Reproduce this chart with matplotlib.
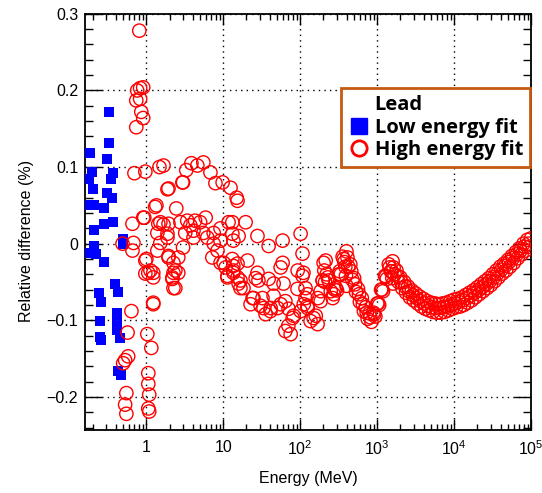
import numpy as np
import matplotlib
matplotlib.use("Agg")
import matplotlib.pyplot as plt
from matplotlib.lines import Line2D

# low energy fit (blue squares): energy in MeV, relative difference in %
low_e = [0.33, 0.33, 0.187, 0.31, 0.198, 0.37, 0.18, 0.35, 0.20, 0.31, 0.36,
         0.187, 0.21, 0.28, 0.28, 0.37, 0.21, 0.50, 0.49, 0.21, 0.18, 0.22,
         0.28, 0.39, 0.43, 0.24, 0.26, 0.41, 0.25, 0.42, 0.42, 0.25, 0.26,
         0.46, 0.43, 0.47]
low_val = [0.172, 0.132, 0.118, 0.111, 0.093, 0.092, 0.085, 0.084, 0.072, 0.066, 0.060,
           0.050, 0.050, 0.046, 0.026, 0.028, 0.018, 0.006, 0.000, -0.003, -0.012, -0.013,
           -0.024, -0.052, -0.063, -0.065, -0.076, -0.090, -0.101, -0.101, -0.112, -0.122, -0.126,
           -0.123, -0.166, -0.172]

# high energy fit (red circles), below 10 MeV
hi_e_a = [0.81, 0.83, 0.91, 0.76, 0.74, 0.83, 0.86, 0.91, 0.74,
          0.70, 0.97, 1.48, 1.67, 1.88, 1.35, 2.45, 3.0, 3.3, 3.85, 4.6, 5.5, 6.8, 7.9, 9.8,
          0.91, 0.66, 0.49, 0.68, 0.66, 0.97, 1.06, 1.23, 1.23, 0.64, 0.57, 1.03, 1.16, 0.58,
          0.53, 0.50, 1.06, 1.06, 0.55, 1.09, 0.53, 1.06, 0.55, 1.09,
          1.30, 1.52, 1.67, 1.94, 1.39, 1.88, 1.52, 1.39, 1.94, 2.25, 2.38, 2.18, 2.6, 2.38,
          2.77, 3.4, 3.73, 4.3, 5.0, 5.9, 3.2, 4.1, 5.5, 7.5, 9.2, 7.2, 8.4, 9.2,
          1.94, 2.94, 0.94, 1.43, 1.88, 3.0, 4.1, 6.2, 7.5, 9.2, 1.0, 1.94, 2.6, 1.13, 2.25,
          0.97, 1.23, 2.18, 2.25, 1.23]
hi_val_a = [0.278, 0.203, 0.204, 0.200, 0.187, 0.189, 0.172, 0.164, 0.152,
            0.092, 0.094, 0.100, 0.102, 0.071, 0.050, 0.046, 0.080, 0.096, 0.105, 0.102, 0.106, 0.093, 0.079, 0.080,
            0.034, 0.026, 0.000, 0.001, -0.009, -0.022, -0.038, -0.038, -0.077, -0.088, -0.116, -0.118, -0.136, -0.147,
            -0.152, -0.156, -0.169, -0.183, -0.195, -0.197, -0.210, -0.215, -0.222, -0.219,
            0.048, 0.028, 0.025, 0.026, 0.014, 0.013, 0.001, -0.009, -0.016, -0.025, -0.035, -0.044, -0.038, -0.058,
            0.028, 0.030, 0.024, 0.030, 0.028, 0.034, 0.014, 0.017, 0.014, 0.014, 0.020, -0.018, -0.009, -0.025,
            0.072, 0.080, 0.034, 0.026, 0.008, -0.005, 0.008, 0.008, 0.000, 0.004, -0.020, -0.018, -0.018, -0.035, -0.038,
            -0.039, -0.044, -0.046, -0.058, -0.079]

# high energy fit, 10 - 300 MeV cloud
hi_e_b = [11.7, 10.7, 13.5, 11.3, 13.5, 15.8, 10.1, 11.3, 15.3, 16.7, 12.4, 14.9, 13.5,
          15.3, 13.1, 19.5, 13.1, 15.8, 27.8, 38.8, 58.9, 101, 107, 201, 13.1, 15.3, 20.6,
          13.5, 18.3, 27.8, 28.6, 38.8, 55.6, 60.6, 110, 92, 195, 228, 24.7, 32.3, 45, 64,
          124, 22.6, 33.3, 50.7, 70.4, 124, 184, 35.4, 82, 149, 168, 70, 75, 64, 136, 41,
          16.7, 26.3, 45.1, 59.0, 107, 92.5, 24.0, 30.5, 41.2, 55.6, 79.6, 101, 117, 159,
          169, 184, 196, 214, 234, 249, 264, 272, 111, 117, 125,
          205, 210, 220, 385, 392, 398, 1540, 1570, 1600]
hi_val_b = [0.028, -0.031, -0.029, -0.042, -0.035, -0.052, -0.025, -0.044, -0.044, -0.058, 0.073, 0.060, 0.004,
            0.056, 0.028, 0.028, 0.013, 0.010, 0.010, -0.003, 0.004, 0.013, -0.013, -0.025, -0.020, -0.026, -0.022,
            -0.038, -0.058, -0.038, -0.048, -0.046, -0.031, -0.052, -0.038, -0.059, -0.048, -0.044, -0.071, -0.071, -0.068, -0.075,
            -0.066, -0.079, -0.084, -0.084, -0.085, -0.081, -0.075, -0.092, -0.094, -0.097, -0.105, -0.107, -0.118, -0.114, -0.101, -0.088,
            -0.048, -0.045, -0.052, -0.025, -0.042, -0.035, -0.071, -0.081, -0.084, -0.079, -0.097, -0.088, -0.071, -0.094,
            -0.071, -0.062, -0.048, -0.022, -0.048, -0.062, -0.071, -0.066, -0.079, -0.058, -0.084,
            -0.035, -0.050, -0.040, -0.030, -0.042, -0.055, -0.036, -0.045, -0.052]

# high energy fit, smooth band above 280 MeV (upper strand)
hi_e_c = [280, 316, 355, 398, 447, 501, 562, 631, 708, 794, 891, 1000, 1122, 1259, 1413,
          1585, 1778, 1995, 2239, 2512, 2818, 3162, 3548, 3981, 4467, 5012, 5623, 6310,
          7079, 7943, 8913, 1.0e4, 1.122e4, 1.259e4, 1.413e4, 1.585e4, 1.778e4, 1.995e4,
          2.239e4, 2.512e4, 2.818e4, 3.162e4, 3.548e4, 3.981e4, 4.467e4, 5.012e4, 5.623e4,
          6.310e4, 7.079e4, 7.943e4, 8.913e4, 1.0e5]
hi_val_c = [-0.060, -0.040, -0.017, -0.010, -0.027, -0.045, -0.059, -0.071, -0.083, -0.091, -0.090,
            -0.078, -0.060, -0.042, -0.027, -0.023, -0.035, -0.044, -0.050, -0.056, -0.061, -0.065,
            -0.069, -0.072, -0.075, -0.077, -0.078, -0.079, -0.078, -0.077, -0.075, -0.073, -0.072,
            -0.070, -0.067, -0.064, -0.061, -0.057, -0.053, -0.049, -0.045, -0.040, -0.035, -0.030,
            -0.026, -0.021, -0.016, -0.011, -0.006, 0.000, 0.005, 0.007]

# smooth band, middle strand
hi_e_m = [290, 325, 365, 410, 460, 515, 580, 650, 730, 815, 915, 1030, 1150, 1290, 1450,
          1630, 1830, 2050, 2300, 2580, 2900, 3250, 3650, 4090, 4590, 5150, 5780, 6490,
          7280, 8170, 9170, 1.03e4, 1.15e4, 1.29e4, 1.45e4, 1.63e4, 1.83e4, 2.05e4, 2.30e4,
          2.58e4, 2.90e4, 3.25e4, 3.65e4, 4.09e4, 4.59e4, 5.15e4, 5.78e4, 6.49e4, 7.28e4,
          8.17e4, 9.17e4]
hi_val_m = [-0.058, -0.036, -0.020, -0.018, -0.036, -0.053, -0.066, -0.079, -0.090, -0.096, -0.092,
            -0.078, -0.060, -0.043, -0.031, -0.031, -0.042, -0.050, -0.056, -0.062, -0.067, -0.071,
            -0.075, -0.078, -0.081, -0.083, -0.084, -0.084, -0.083, -0.082, -0.080, -0.078, -0.076,
            -0.074, -0.071, -0.068, -0.064, -0.061, -0.057, -0.053, -0.049, -0.044, -0.039, -0.034,
            -0.029, -0.024, -0.019, -0.014, -0.009, -0.004, 0.000]

# smooth band (lower strand)
hi_e_d = [300, 335, 375, 420, 475, 530, 595, 670, 750, 840, 945, 1060, 1190, 1330, 1500,
          1680, 1890, 2110, 2370, 2660, 2990, 3350, 3760, 4220, 4730, 5310, 5960, 6680,
          7500, 8410, 9440, 1.06e4, 1.19e4, 1.33e4, 1.50e4, 1.68e4, 1.88e4, 2.11e4, 2.37e4,
          2.66e4, 2.99e4, 3.35e4, 3.76e4, 4.22e4, 4.73e4, 5.31e4, 5.96e4, 6.68e4, 7.50e4,
          8.41e4, 9.44e4]
hi_val_d = [-0.061, -0.040, -0.024, -0.030, -0.047, -0.063, -0.076, -0.088, -0.098, -0.102, -0.095,
            -0.080, -0.062, -0.046, -0.036, -0.040, -0.050, -0.058, -0.064, -0.070, -0.074, -0.078,
            -0.082, -0.085, -0.087, -0.089, -0.090, -0.090, -0.089, -0.087, -0.085, -0.083, -0.082,
            -0.080, -0.077, -0.074, -0.070, -0.066, -0.062, -0.058, -0.054, -0.049, -0.044, -0.039,
            -0.035, -0.030, -0.025, -0.019, -0.014, -0.009, -0.004]

x_ticks = [1, 10, 1e2, 1e3, 1e4, 1e5]
x_ticklabels = ["1", "10", "$10^2$", "$10^3$", "$10^4$", "$10^5$"]
y_ticks = [-0.2, -0.1, 0, 0.1, 0.2, 0.3]
y_ticklabels = ["\u22120.2", "\u22120.1", "0", "0.1", "0.2", "0.3"]

hi_e = hi_e_a + hi_e_b + hi_e_c + hi_e_m + hi_e_d
hi_val = hi_val_a + hi_val_b + hi_val_c + hi_val_m + hi_val_d

plt.rcParams["font.family"] = ["Liberation Sans", "DejaVu Sans"]
plt.rcParams["mathtext.fontset"] = "custom"
plt.rcParams["mathtext.rm"] = "Liberation Sans"

fig = plt.figure(figsize=(5.42, 4.93), dpi=100)
ax = fig.add_axes([0.157, 0.128, 0.823, 0.844])

ax.scatter(low_e, low_val, marker="s", s=55, color="#0000ff", linewidths=0, zorder=3)
ax.scatter(hi_e, hi_val, marker="o", s=92, facecolors="none", edgecolors="#ff0000",
           linewidths=1.0, zorder=4)

ax.set_xscale("log")
ax.set_xlim(0.16, 1.0e5)
ax.set_ylim(-0.243, 0.3)
ax.set_xticks(x_ticks)
ax.set_xticklabels(x_ticklabels)
ax.set_yticks(y_ticks)
ax.set_yticklabels(y_ticklabels)
ax.yaxis.set_minor_locator(matplotlib.ticker.MultipleLocator(0.02))
ax.xaxis.set_minor_locator(matplotlib.ticker.LogLocator(base=10, subs=np.arange(2, 10)))
ax.xaxis.set_minor_formatter(matplotlib.ticker.NullFormatter())

ax.tick_params(which="both", direction="in", top=True, right=True, labelsize=11.5, width=1.0)
ax.tick_params(axis="y", which="major", length=12, pad=5)
ax.tick_params(axis="y", which="minor", length=6)
ax.tick_params(axis="x", which="major", length=8, pad=7)
ax.tick_params(axis="x", which="minor", length=4)
for sp in ax.spines.values():
    sp.set_linewidth(1.3)

ax.grid(True, which="major", color="black", linestyle=(0, (1, 3)), linewidth=1.0)

ax.set_xlabel("Energy (MeV)", fontsize=11.5, labelpad=9)
ax.set_ylabel("Relative difference (%)", fontsize=11.5)
ax.yaxis.set_label_coords(-0.115, 0.454)

handles = [
    Line2D([], [], linestyle="none", marker=None),
    Line2D([], [], linestyle="none", marker="s", markersize=11, color="#0000ff"),
    Line2D([], [], linestyle="none", marker="o", markersize=11, markerfacecolor="none",
           markeredgecolor="#ff0000", markeredgewidth=2),
]
labels = ["Lead", "Low energy fit", "High energy fit"]
leg = fig.legend(handles, labels, loc="upper right", bbox_to_anchor=(0.978, 0.821),
                 bbox_transform=fig.transFigure, fancybox=False, framealpha=1,
                 edgecolor="#c55a11",
                 prop={"family": ["Open Sans", "DejaVu Sans"], "weight": "bold", "size": 14.5},
                 handlelength=1.0, handletextpad=0.3, borderpad=0.35, labelspacing=0.12,
                 borderaxespad=0)
leg.get_frame().set_linewidth(2)

fig.savefig("out.png", dpi=100)
